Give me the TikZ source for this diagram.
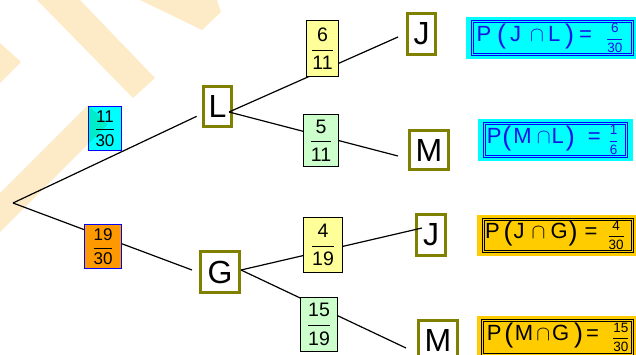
\documentclass[tikz,border=0pt]{standalone}
\usepackage{fontspec}
\usepackage{amsmath}
\setmainfont{Liberation Sans}
\usetikzlibrary{backgrounds}

\definecolor{olivebox}{RGB}{128,128,0}
\definecolor{cyanfill}{RGB}{0,255,255}
\definecolor{frameblue}{RGB}{0,0,255}
\definecolor{txtblue}{RGB}{20,20,230}
\definecolor{orangefill}{RGB}{255,153,0}
\definecolor{goldfill}{RGB}{255,204,0}
\definecolor{paleyellow}{RGB}{255,255,153}
\definecolor{palegreen}{RGB}{204,255,204}
\definecolor{stripecol}{RGB}{253,235,200}

% stacked fraction: rule thickness, numerator, denominator
\newcommand\frc[3]{$\genfrac{}{}{#1}{0}{\hbox{#2}}{\hbox{#3}}$}
% tall parentheses of the result labels
\newcommand\lpar{\raisebox{-2pt}{\fontsize{27}{27}\selectfont(}}
\newcommand\rpar{\raisebox{-2pt}{\fontsize{27}{27}\selectfont)}}
\newcommand\smallfrc[2]{\raisebox{-1.5pt}{\fontsize{13.5}{13.5}\selectfont\frc{0.8pt}{#1}{#2}}}

\tikzset{
  event/.style={draw=olivebox, line width=3pt, fill=white, inner sep=0pt,
    font=\fontsize{32}{32}\selectfont},
  prob/.style={draw=black, line width=1.3pt, inner sep=0pt,
    font=\fontsize{19.5}{20}\selectfont},
  probfirst/.style={prob, draw=frameblue, font=\fontsize{17}{18}\selectfont},
  branch/.style={line width=1.2pt, black},
  result/.style={line width=0.8pt, double distance=1.5pt, inner xsep=0pt,
    inner ysep=0pt, align=left, font=\fontsize{22}{24}\selectfont},
  stripe/.style={fill=stripecol}
}

\begin{document}
\begin{tikzpicture}[x=1pt, y=-1pt]
\useasboundingbox (0,0) rectangle (636,354);

% event boxes
\node[event, minimum width=28pt, minimum height=40pt] (L)  at (217.5,106.5) {L};
\node[event, minimum width=39pt, minimum height=41pt] (G)  at (220,272) {G};
\node[event, minimum width=28pt, minimum height=41pt] (J1) at (421.5,34) {J};
\node[event, minimum width=39pt, minimum height=39pt] (M1) at (429,150) {M};
\node[event, minimum width=29pt, minimum height=41pt] (J2) at (431,235) {J};
\node[event, minimum width=39pt, minimum height=39pt] (M2) at (438,340) {M};

% branches
\coordinate (root) at (13,203);
\coordinate (Lo) at ([shift={(-4,5.5)}]L.east);
\coordinate (Go) at ([shift={(0,-2)}]G.east);
\draw[branch, shorten >=6pt] (root) -- (L);
\draw[branch] (root) -- ([shift={(-7,-2)}]G.west);
\draw[branch] (Lo) -- ([shift={(-8,3)}]J1.west);
\draw[branch] (Lo) -- ([shift={(-10,6)}]M1.west);
\draw[branch] (Go) -- ([shift={(7,-7)}]J2.west);
\draw[branch] (Go) -- ([shift={(-11,8)}]M2.west);

% branch probabilities
\node[probfirst, fill=cyanfill,   minimum width=32.7pt, minimum height=43.7pt] (p1) at (105,128.5) {\frc{0.9pt}{11}{30}};
\node[probfirst, fill=orangefill, minimum width=36.7pt, minimum height=43.7pt] (p2) at (103,246.5) {\frc{0.9pt}{19}{30}};
\node[prob, fill=paleyellow, minimum width=31.7pt, minimum height=55.7pt] (p3) at (322.5,48.5) {\frc{1pt}{6}{11}};
\node[prob, fill=palegreen,  minimum width=34.7pt, minimum height=51.7pt] (p4) at (321,140.5) {\frc{1pt}{5}{11}};
\node[prob, fill=paleyellow, minimum width=38.7pt, minimum height=54.7pt] (p5) at (323,245) {\frc{1pt}{4}{19}};
\node[prob, fill=palegreen,  minimum width=36.7pt, minimum height=53.7pt] (p6) at (319,324.5) {\frc{1pt}{15}{19}};

% joint probabilities
\node[result, draw=frameblue, double=cyanfill, fill=cyanfill, text=txtblue,
  minimum width=160pt, minimum height=33pt, text width=157pt] (R1) at (552.5,38)
  {\hspace*{2.5pt}P\hspace{6pt}\lpar\hspace{4pt}J\hspace{9pt}$\cap$\hspace{4pt}L\hspace{5pt}\rpar\hspace{5pt}=\hspace{14pt}\smallfrc{6}{30}};
\node[result, draw=frameblue, double=cyanfill, fill=cyanfill, text=txtblue,
  minimum width=142pt, minimum height=33pt, text width=139pt] (R2) at (555.5,140)
  {\hspace*{0.8pt}P\hspace{1pt}\lpar\hspace{2pt}M\hspace{5pt}$\cap$\hspace{1pt}L\hspace{2pt}\rpar\hspace{13pt}=\hspace{8pt}\smallfrc{1}{6}};
\node[result, draw=black, double=goldfill, fill=goldfill,
  minimum width=149pt, minimum height=32pt, text width=146pt] (R3) at (558,235.5)
  {\hspace*{0pt}P\hspace{4pt}\lpar\hspace{1pt}J\hspace{7pt}$\cap$\hspace{5pt}G\hspace{1pt}\rpar\hspace{7pt}=\hspace{10pt}\smallfrc{4}{30}};
\node[result, draw=black, double=goldfill, fill=goldfill,
  minimum width=150pt, minimum height=34pt, text width=147pt] (R4) at (557.5,337.5)
  {\hspace*{2.8pt}P\hspace{3pt}\lpar\hspace{1.5pt}M\hspace{3pt}$\cap$\hspace{2pt}G\hspace{5pt}\rpar\hspace{3pt}=\hspace{13pt}\smallfrc{15}{30}};

% coloured margins round the joint probabilities
\begin{scope}[on background layer]
  \fill[cyanfill] ([shift={(-6,-4.5)}]R1.north west) rectangle ([shift={(6,4.5)}]R1.south east);
  \fill[cyanfill] ([shift={(-6,-4.5)}]R2.north west) rectangle ([shift={(6,4.5)}]R2.south east);
  \fill[goldfill] ([shift={(-6,-4.5)}]R3.north west) rectangle ([shift={(6,4.5)}]R3.south east);
  \fill[goldfill] ([shift={(-5,-4)}]R4.north west) rectangle ([shift={(6,4.5)}]R4.south east);
\end{scope}

% watermark bands
\begin{scope}[blend mode=multiply]
  \fill[stripecol] (0,193) -- (88,105) -- (107.5,124.5) -- (0,232) -- cycle;
  \fill[stripecol] (0,43) -- (21,62) -- (0,83) -- cycle;
  \fill[stripecol] (37,0) -- (80,0) -- (155,78) -- (133,98) -- cycle;
  \fill[stripecol] (140,0) -- (217,0) -- (221,12) -- (202,30) -- cycle;
\end{scope}
\end{tikzpicture}
\end{document}
